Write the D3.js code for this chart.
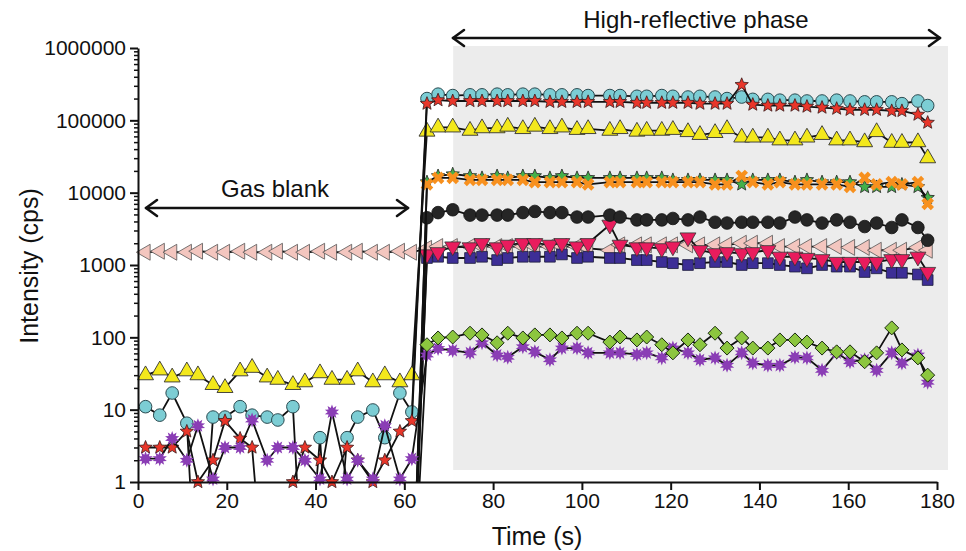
<!DOCTYPE html>
<html><head><meta charset="utf-8">
<script src="https://cdn.jsdelivr.net/npm/d3@7"></script>
<style>
body{margin:0;background:#fff;}
text{font-family:"Liberation Sans",Arial,sans-serif;fill:#111;}
</style>
</head><body>
<svg id="c" width="966" height="551"></svg>
<script>
// ---------------- DATA ----------------
const timeGas = [1.7, 4.9, 7.7, 11.0, 13.5, 16.9, 19.6, 23.0, 25.7, 29.1, 31.5, 34.9, 37.6, 41.0, 43.7, 47.1, 49.5, 52.9, 55.6, 59.0, 61.7];
const timeHigh = [65.1, 67.6, 70.9, 74.8, 77.5, 80.9, 83.3, 86.7, 89.4, 92.8, 95.5, 98.9, 101.4, 106.3, 108.6, 112.4, 114.6, 118.0, 120.5, 123.9, 126.6, 130.0, 132.7, 136.0, 138.5, 141.9, 144.6, 148.0, 150.7, 154.1, 157.4, 160.4, 163.7, 166.4, 169.8, 172.1, 175.7, 177.9];

const xTicks = [0, 20, 40, 60, 80, 100, 120, 140, 160, 180];
const yTicks = [1, 10, 100, 1000, 10000, 100000, 1000000];

const pinkGas  = [1500, 1550, 1500, 1500, 1550, 1500, 1500, 1550, 1500, 1500, 1550, 1500, 1500, 1550, 1500, 1500, 1550, 1500, 1500, 1550, 1500];
const pinkHigh = [1700, 1800, 1800, 1800, 1800, 1800, 1800, 1800, 1800, 1800, 1800, 1800, 1700, 1600, 1900, 1900, 1900, 1900, 1900, 1900, 1900, 1900, 1900, 2000, 2000, 2000, 1800, 1800, 1800, 1800, 1800, 1750, 1750, 1600, 1600, 1600, 1750, 1600];

const squareGas  = [0, 0, 0, 0, 0, 0, 0, 0, 0, 0, 0, 0, 0, 0, 0, 0, 0, 0, 0, 0, 0];
const squareHigh = [1250, 1300, 1250, 1250, 1300, 1170, 1250, 1300, 1300, 1300, 1400, 1250, 1300, 1250, 1250, 1170, 1170, 1100, 1060, 1000, 1060, 1100, 1100, 1000, 1060, 1060, 1000, 950, 900, 1000, 950, 950, 800, 900, 780, 780, 740, 620];

const magentaGas  = [0, 0, 0, 0, 0, 0, 0, 0, 0, 0, 0, 0, 0, 0, 0, 0, 0, 0, 0, 0, 0];
const magentaHigh = [1400, 1500, 1800, 1750, 2000, 1750, 1900, 2000, 2000, 1900, 2000, 1800, 2000, 3600, 1900, 1750, 1750, 1700, 1800, 2400, 1600, 1450, 1500, 1450, 1500, 1600, 1300, 1300, 1250, 1200, 1100, 1100, 1100, 1100, 1200, 1200, 1300, 800];

const blackGas  = [0, 0, 0, 0, 0, 0, 0, 0, 0, 0, 0, 0, 0, 0, 0, 0, 0, 0, 0, 0, 0];
const blackHigh = [4500, 5300, 5800, 4900, 4900, 4900, 4900, 5300, 5500, 5300, 5300, 4600, 4600, 4900, 4600, 4200, 4200, 4200, 4400, 4200, 4600, 3900, 3800, 3900, 3900, 3900, 3800, 4600, 4200, 3800, 4200, 3900, 3400, 3800, 3300, 4200, 3300, 2200];

const greenStarGas  = [0, 0, 0, 0, 0, 0, 0, 0, 0, 0, 0, 0, 0, 0, 0, 0, 0, 0, 0, 0, 0];
const greenStarHigh = [14000, 17000, 18000, 17000, 16000, 17000, 16000, 17000, 17000, 16000, 17000, 16000, 16000, 16000, 16000, 16000, 16000, 16000, 15000, 15000, 15000, 15000, 15000, 13000, 15000, 15000, 15000, 14000, 15000, 14000, 14000, 14000, 12000, 12000, 12000, 13000, 12000, 8500];

const orangeGas  = [0, 0, 0, 0, 0, 0, 0, 0, 0, 0, 0, 0, 0, 0, 0, 0, 0, 0, 0, 0, 0];
const orangeHigh = [13000, 16000, 16000, 15000, 15000, 15000, 15000, 15000, 14000, 14000, 14000, 14000, 13000, 14000, 14000, 14000, 14000, 14000, 14000, 14000, 14000, 13000, 13000, 17000, 14000, 13000, 14000, 13000, 13000, 13000, 13000, 12000, 16000, 13000, 14000, 13000, 14000, 7000];

const yellowGas  = [30, 35, 28, 34, 30, 22, 20, 34, 38, 28, 26, 22, 24, 32, 26, 26, 34, 24, 30, 24, 30];
const yellowHigh = [70000, 80000, 80000, 72000, 78000, 78000, 82000, 76000, 82000, 76000, 80000, 74000, 76000, 72000, 76000, 70000, 72000, 72000, 74000, 69000, 63000, 67000, 76000, 58000, 58000, 58000, 53000, 53000, 58000, 63000, 53000, 53000, 50000, 69000, 49000, 49000, 50000, 30000];

const cyanGas  = [11, 8.4, 17, 6.5, 0, 7.9, 7.9, 11, 8.4, 7.9, 7.2, 11, 0, 4.1, 0, 4.1, 7.9, 9.9, 4.1, 17, 9.3];
const cyanHigh = [200000, 230000, 220000, 225000, 225000, 230000, 225000, 230000, 230000, 225000, 225000, 225000, 220000, 220000, 220000, 215000, 215000, 220000, 215000, 210000, 215000, 210000, 200000, 210000, 195000, 195000, 190000, 190000, 185000, 185000, 190000, 185000, 180000, 180000, 180000, 170000, 185000, 160000];

const redGas  = [3, 3, 3, 5, 1, 2, 7, 4, 3, 0, 0, 1, 3, 2, 1, 3, 2, 1, 2, 5, 7];
const redHigh = [170000, 190000, 185000, 185000, 185000, 185000, 185000, 185000, 185000, 180000, 180000, 180000, 180000, 180000, 180000, 175000, 175000, 175000, 175000, 175000, 170000, 170000, 170000, 310000, 165000, 160000, 160000, 160000, 155000, 150000, 145000, 140000, 140000, 140000, 135000, 135000, 120000, 93000];

const purpleGas  = [2.1, 2.1, 4, 2, 6, 1.1, 3, 3, 7.2, 2, 3, 3, 2, 1.1, 9.3, 1.1, 2, 1.1, 6, 1.1, 2.1];
const purpleHigh = [57, 70, 66, 61, 84, 57, 53, 74, 63, 49, 71, 71, 61, 61, 61, 58, 61, 52, 71, 61, 49, 52, 41, 61, 44, 41, 41, 53, 52, 35, 61, 46, 49, 35, 61, 44, 57, 24];

const diamondGas  = [0, 0, 0, 0, 0, 0, 0, 0, 0, 0, 0, 0, 0, 0, 0, 0, 0, 0, 0, 0, 0];
const diamondHigh = [79, 98, 101, 114, 108, 84, 114, 98, 108, 108, 98, 114, 114, 86, 101, 92, 101, 79, 61, 92, 79, 114, 71, 98, 71, 71, 92, 92, 86, 71, 63, 63, 46, 61, 135, 67, 52, 30];

// ---------------- CHART ----------------
const svg = d3.select("#c");
const W = 966, H = 551;
const x = d3.scaleLinear().domain([0, 180]).range([138, 937]);
const y = d3.scaleLog().domain([1, 1000000]).range([482, 48]);

svg.append("rect").attr("width", W).attr("height", H).attr("fill", "#fff");

// shaded high-reflective region
svg.append("rect")
  .attr("x", x(71)).attr("y", 46)
  .attr("width", 948 - x(71)).attr("height", 470 - 46)
  .attr("fill", "#ececec");

svg.append("defs").append("clipPath").attr("id", "clip")
  .append("rect").attr("x", 130).attr("y", 30).attr("width", 830).attr("height", 482 - 30);

// custom symbol shapes
function starPath(n, ro, ri) {
  const pts = [];
  for (let i = 0; i < 2 * n; i++) {
    const a = Math.PI * i / n - Math.PI / 2;
    const r = i % 2 === 0 ? ro : ri;
    pts.push([r * Math.cos(a), r * Math.sin(a)]);
  }
  return "M" + pts.map(p => p[0].toFixed(2) + "," + p[1].toFixed(2)).join("L") + "Z";
}
const sym = {
  circle: d3.symbol().type(d3.symbolCircle).size(125)(),
  triUp: d3.symbol().type(d3.symbolTriangle).size(110)(),
  square: d3.symbol().type(d3.symbolSquare).size(115)(),
  star: starPath(5, 7, 3.1),
  cross: d3.symbol().type(d3.symbolCross).size(100)(),
  diamond: "M0,-7L7,0L0,7L-7,0Z",
  asterisk: starPath(10, 7.5, 4.2)
};

const series = [
  {gas: pinkGas, high: pinkHigh, path: sym.triUp, rot: -90, fill: "#f3c6bf", stroke: "#555", sw: 0.8},
  {gas: squareGas, high: squareHigh, path: sym.square, rot: 0, fill: "#3d2e96", stroke: "#1a1a3a", sw: 0.8},
  {gas: magentaGas, high: magentaHigh, path: sym.triUp, rot: 180, fill: "#e91c5d", stroke: "#333", sw: 0.8},
  {gas: blackGas, high: blackHigh, path: sym.circle, rot: 0, fill: "#262626", stroke: "#111", sw: 0.8},
  {gas: greenStarGas, high: greenStarHigh, path: sym.star, rot: 0, fill: "#44b04a", stroke: "#222", sw: 0.8},
  {gas: orangeGas, high: orangeHigh, path: sym.cross, rot: 45, fill: "#f7901e", stroke: "none", sw: 0},
  {gas: yellowGas, high: yellowHigh, path: sym.triUp, rot: 0, fill: "#f3e81c", stroke: "#333", sw: 0.9},
  {gas: cyanGas, high: cyanHigh, path: sym.circle, rot: 0, fill: "#7ccdd4", stroke: "#2b4a50", sw: 1},
  {gas: redGas, high: redHigh, path: sym.star, rot: 0, fill: "#e8362a", stroke: "#3a1a1a", sw: 0.8},
  {gas: purpleGas, high: purpleHigh, path: sym.asterisk, rot: 0, fill: "#8a3db5", stroke: "none", sw: 0},
  {gas: diamondGas, high: diamondHigh, path: sym.diamond, rot: 0, fill: "#8cc63f", stroke: "#1a2a10", sw: 1}
];

const ypos = v => v > 0 ? y(v) : y(0.01);

series.forEach(s => {
  const pts = timeGas.map((t, i) => [t, s.gas[i]]).concat(timeHigh.map((t, i) => [t, s.high[i]]));
  const g = svg.append("g");
  g.append("path")
    .attr("clip-path", "url(#clip)")
    .attr("fill", "none").attr("stroke", "#111").attr("stroke-width", 1.8)
    .attr("stroke-linejoin", "round")
    .attr("d", d3.line().x(d => x(d[0])).y(d => ypos(d[1]))(pts));
  g.selectAll("path.m").data(pts.filter(d => d[1] > 0)).join("path")
    .attr("class", "m")
    .attr("d", s.path)
    .attr("transform", d => `translate(${x(d[0])},${y(d[1])}) rotate(${s.rot})`)
    .attr("fill", s.fill).attr("stroke", s.stroke).attr("stroke-width", s.sw);
});

// axes
const minor = y.ticks().filter(v => !yTicks.includes(v));
const yMinor = svg.append("g").attr("transform", "translate(138,0)")
  .call(d3.axisLeft(y).tickValues(minor).tickSize(4).tickFormat(""));
yMinor.select(".domain").remove();
yMinor.selectAll("line").attr("stroke-width", 1.5).attr("stroke", "#111");

const yAx = svg.append("g").attr("transform", "translate(138,0)")
  .call(d3.axisLeft(y).tickValues(yTicks).tickSize(8).tickPadding(4).tickFormat(d3.format("d")).tickSizeOuter(0));
yAx.select(".domain").attr("stroke-width", 2).attr("stroke", "#111");
yAx.selectAll("line").attr("stroke-width", 2).attr("stroke", "#111");
yAx.selectAll("text").attr("font-size", 21).attr("font-family", "Liberation Sans, Arial, sans-serif").attr("fill", "#111");

const xAx = svg.append("g").attr("transform", "translate(0,482)")
  .call(d3.axisBottom(x).tickValues(xTicks).tickSize(8).tickPadding(3).tickSizeOuter(0));
xAx.select(".domain").attr("stroke-width", 2).attr("stroke", "#111");
xAx.selectAll("line").attr("stroke-width", 2).attr("stroke", "#111");
xAx.selectAll("text").attr("font-size", 21).attr("font-family", "Liberation Sans, Arial, sans-serif").attr("fill", "#111");

// axis titles
svg.append("text").attr("x", 537).attr("y", 545).attr("text-anchor", "middle")
  .attr("font-size", 25).text("Time (s)");
svg.append("text").attr("transform", "translate(38,266) rotate(-90)").attr("text-anchor", "middle")
  .attr("font-size", 25).text("Intensity (cps)");

// annotation arrows
function arrow(x1, x2, yy) {
  const g = svg.append("g").attr("stroke", "#111").attr("stroke-width", 2.6).attr("fill", "none")
    .attr("stroke-linecap", "round").attr("stroke-linejoin", "round");
  g.append("line").attr("x1", x1).attr("x2", x2).attr("y1", yy).attr("y2", yy);
  g.append("path").attr("d", `M${x1 + 11},${yy - 8}L${x1},${yy}L${x1 + 11},${yy + 8}`);
  g.append("path").attr("d", `M${x2 - 11},${yy - 8}L${x2},${yy}L${x2 - 11},${yy + 8}`);
}
arrow(453, 940, 38);
svg.append("text").attr("x", 696).attr("y", 28).attr("text-anchor", "middle").attr("font-size", 24)
  .text("High-reflective phase");
arrow(146, 408, 208);
svg.append("text").attr("x", 275).attr("y", 197).attr("text-anchor", "middle").attr("font-size", 24)
  .text("Gas blank");
</script>
</body></html>
